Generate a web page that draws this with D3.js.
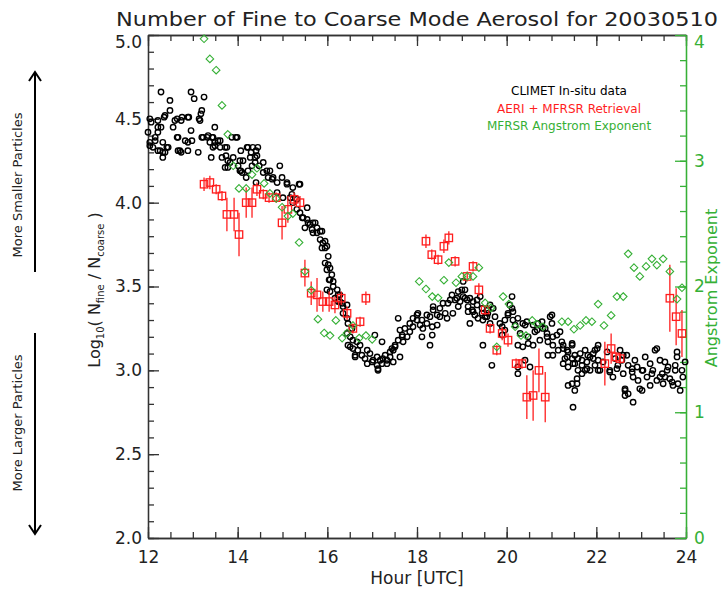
<!DOCTYPE html>
<html>
<head>
<meta charset="utf-8">
<script src="https://cdn.jsdelivr.net/npm/d3@7"></script>
<style>
  body { margin: 0; background: #ffffff; }
</style>
</head>
<body>
<div id="chart"></div>
<script>
// CLIMET in-situ data: [hour UTC, log10(Nfine/Ncoarse)]
const climet = [
  [12.04,4.50],[12.07,4.48],[12.00,4.42],[12.04,4.36],[12.04,4.34],[12.11,4.33],[12.16,4.39],[12.16,4.37],
  [12.22,4.49],[12.22,4.45],[12.22,4.42],[12.22,4.31],[12.27,4.31],[12.29,4.66],[12.29,4.45],[12.33,4.36],
  [12.33,4.30],[12.33,4.27],[12.36,4.51],[12.38,4.52],[12.38,4.30],[12.42,4.33],[12.45,4.33],[12.49,4.61],
  [12.49,4.55],[12.56,4.45],[12.60,4.49],[12.65,4.50],[12.65,4.39],[12.67,4.39],[12.67,4.31],[12.71,4.31],
  [12.74,4.49],[12.74,4.30],[12.76,4.51],[12.83,4.37],[12.89,4.51],[12.89,4.36],[12.89,4.31],[12.91,4.51],
  [12.96,4.66],[12.96,4.43],[12.98,4.37],[13.03,4.62],[13.12,4.30],[13.14,4.50],[13.16,4.49],[13.18,4.53],
  [13.20,4.55],[13.20,4.39],[13.23,4.39],[13.25,4.63],[13.32,4.39],[13.34,4.40],[13.38,4.36],[13.41,4.27],
  [13.43,4.39],[13.45,4.39],[13.45,4.33],[13.49,4.45],[13.49,4.36],[13.49,4.34],[13.56,4.37],[13.61,4.37],
  [13.61,4.33],[13.65,4.27],[13.72,4.33],[13.72,4.21],[13.74,4.28],[13.76,4.33],[13.78,4.25],[13.78,4.21],
  [13.83,4.24],[13.87,4.39],[13.90,4.27],[13.96,4.39],[13.99,4.39],[14.01,4.22],[14.05,4.25],[14.05,4.19],
  [14.07,4.31],[14.07,4.19],[14.10,4.18],[14.12,4.25],[14.19,4.15],[14.21,4.33],[14.23,4.33],[14.23,4.19],
  [14.28,4.27],[14.30,4.30],[14.32,4.22],[14.34,4.33],[14.39,4.27],[14.39,4.24],[14.41,4.31],[14.41,4.12],
  [14.43,4.28],[14.45,4.33],[14.48,4.22],[14.57,4.24],[14.57,4.18],[14.65,4.19],[14.68,4.15],[14.72,4.19],
  [14.77,4.14],[14.79,4.15],[14.88,4.12],[14.88,4.06],[14.94,4.22],[14.99,4.15],[15.01,4.03],[15.10,4.12],
  [15.10,4.11],[15.17,4.03],[15.21,4.05],[15.23,4.09],[15.23,4.00],[15.32,4.02],[15.32,3.96],[15.37,4.11],
  [15.39,4.11],[15.39,3.94],[15.44,3.91],[15.46,3.91],[15.50,3.85],[15.55,3.97],[15.55,3.90],[15.57,3.88],
  [15.61,3.87],[15.66,3.84],[15.68,3.88],[15.68,3.82],[15.73,3.88],[15.77,3.85],[15.77,3.82],[15.84,3.83],
  [15.84,3.78],[15.88,3.83],[15.88,3.73],[15.90,3.76],[15.95,3.77],[15.95,3.73],[15.95,3.64],[15.99,3.74],
  [15.99,3.60],[15.99,3.48],[16.02,3.68],[16.02,3.63],[16.04,3.54],[16.06,3.61],[16.06,3.54],[16.06,3.47],
  [16.10,3.57],[16.13,3.53],[16.13,3.50],[16.17,3.43],[16.22,3.48],[16.24,3.45],[16.24,3.41],[16.28,3.45],
  [16.28,3.41],[16.33,3.40],[16.35,3.38],[16.35,3.34],[16.44,3.39],[16.44,3.31],[16.44,3.22],[16.46,3.28],
  [16.46,3.15],[16.51,3.20],[16.51,3.14],[16.55,3.25],[16.57,3.18],[16.57,3.13],[16.62,3.09],[16.62,3.08],
  [16.66,3.17],[16.68,3.12],[16.73,3.15],[16.77,3.09],[16.84,3.07],[16.89,3.12],[16.89,3.04],[16.95,3.10],
  [17.00,3.05],[17.02,3.06],[17.06,3.21],[17.11,3.08],[17.11,3.03],[17.13,3.01],[17.13,3.00],[17.18,3.06],
  [17.22,3.17],[17.22,3.04],[17.24,3.07],[17.29,3.09],[17.33,3.06],[17.33,3.04],[17.40,3.11],[17.40,3.08],
  [17.44,3.13],[17.47,3.12],[17.47,3.05],[17.51,3.15],[17.51,3.14],[17.58,3.31],[17.58,3.18],[17.62,3.24],
  [17.62,3.08],[17.67,3.21],[17.67,3.20],[17.69,3.17],[17.73,3.25],[17.78,3.20],[17.84,3.28],[17.84,3.23],
  [17.91,3.31],[17.91,3.26],[18.00,3.33],[18.00,3.30],[18.02,3.34],[18.07,3.27],[18.11,3.30],[18.11,3.20],
  [18.13,3.25],[18.22,3.33],[18.22,3.28],[18.29,3.32],[18.29,3.15],[18.34,3.26],[18.34,3.21],[18.36,3.38],
  [18.36,3.36],[18.45,3.33],[18.45,3.27],[18.51,3.37],[18.51,3.32],[18.58,3.40],[18.63,3.34],[18.67,3.31],
  [18.69,3.40],[18.74,3.42],[18.78,3.45],[18.80,3.34],[18.85,3.42],[18.89,3.43],[18.92,3.47],[18.92,3.38],
  [18.96,3.41],[19.00,3.48],[19.03,3.53],[19.03,3.44],[19.07,3.48],[19.07,3.43],[19.12,3.42],[19.14,3.38],
  [19.14,3.35],[19.18,3.43],[19.18,3.28],[19.23,3.36],[19.25,3.41],[19.25,3.35],[19.29,3.33],[19.34,3.42],
  [19.34,3.39],[19.36,3.31],[19.41,3.44],[19.45,3.37],[19.45,3.34],[19.47,3.30],[19.47,3.15],[19.52,3.32],
  [19.56,3.32],[19.58,3.36],[19.58,3.34],[19.63,3.39],[19.63,3.28],[19.67,3.03],[19.70,3.37],[19.74,3.32],
  [19.85,3.28],[19.90,3.26],[19.90,3.21],[19.96,3.30],[19.96,3.24],[20.03,3.34],[20.03,3.33],[20.07,3.39],
  [20.12,3.44],[20.12,3.37],[20.14,3.35],[20.14,3.30],[20.19,3.27],[20.25,3.31],[20.25,3.15],[20.25,3.02],
  [20.25,2.98],[20.30,3.22],[20.36,3.28],[20.36,3.14],[20.41,3.27],[20.41,3.06],[20.45,3.29],[20.48,3.20],
  [20.48,3.16],[20.52,3.02],[20.59,3.27],[20.59,3.15],[20.63,3.23],[20.68,3.24],[20.70,3.28],[20.74,3.18],
  [20.79,3.29],[20.81,3.25],[20.86,3.25],[20.90,3.22],[20.90,3.20],[20.92,3.17],[20.92,3.09],[20.97,3.32],
  [21.01,3.33],[21.01,3.28],[21.03,3.20],[21.03,3.15],[21.03,3.09],[21.12,3.21],[21.15,3.12],[21.19,3.23],
  [21.23,3.17],[21.26,3.15],[21.26,3.13],[21.26,3.04],[21.30,3.07],[21.35,3.12],[21.35,3.08],[21.37,3.11],
  [21.37,3.02],[21.37,2.91],[21.46,3.16],[21.46,3.15],[21.46,3.07],[21.46,2.92],[21.48,3.04],[21.48,2.78],
  [21.52,3.09],[21.52,3.04],[21.52,2.88],[21.57,2.95],[21.57,2.92],[21.59,3.07],[21.59,3.00],[21.64,3.10],
  [21.68,3.06],[21.68,3.03],[21.68,2.98],[21.75,3.12],[21.75,3.00],[21.79,3.05],[21.79,3.01],[21.81,3.09],
  [21.86,3.08],[21.86,3.00],[21.93,3.10],[21.93,3.07],[21.97,3.12],[21.97,3.03],[22.02,3.13],[22.04,3.15],
  [22.04,3.06],[22.04,3.00],[22.08,3.00],[22.15,3.05],[22.24,3.11],[22.30,3.00],[22.30,2.99],[22.37,2.96],
  [22.42,3.07],[22.46,3.01],[22.48,3.03],[22.53,3.12],[22.57,3.06],[22.60,3.09],[22.60,2.98],[22.64,2.89],
  [22.64,2.88],[22.64,2.85],[22.68,3.09],[22.71,3.03],[22.71,2.86],[22.80,3.01],[22.80,2.99],[22.82,2.96],
  [22.82,2.81],[22.86,3.06],[22.91,3.02],[22.93,2.94],[22.97,2.89],[23.02,3.00],[23.02,2.88],[23.04,3.00],
  [23.09,3.08],[23.13,2.96],[23.20,3.04],[23.20,2.91],[23.24,2.98],[23.26,3.00],[23.31,3.12],[23.35,3.13],
  [23.35,2.94],[23.42,3.06],[23.42,2.96],[23.47,2.98],[23.49,2.92],[23.53,3.05],[23.53,2.96],[23.58,3.00],
  [23.60,3.02],[23.64,2.95],[23.69,2.93],[23.71,2.91],[23.76,3.03],[23.76,3.00],[23.80,3.11],[23.80,3.08],
  [23.82,2.92],[23.87,2.88],[23.91,3.00],[23.93,2.96],[23.98,3.05]
];

// AERI + MFRSR retrieval: [hour UTC, log10 ratio, error]
const aeri = [
  [13.25,4.11,0.04],[13.38,4.12,0.04],[13.52,4.08,0.03],[13.65,4.04,0.03],[13.76,3.93,0.10],[13.92,3.93,0.10],
  [14.03,3.81,0.13],[14.19,4.00,0.09],[14.32,4.00,0.09],[14.43,4.08,0.04],[14.57,4.05,0.03],[14.70,4.03,0.03],
  [14.86,4.03,0.03],[14.99,3.88,0.10],[15.12,3.96,0.08],[15.26,4.02,0.04],[15.39,4.00,0.04],[15.50,3.58,0.08],
  [15.64,3.46,0.07],[15.77,3.45,0.10],[15.90,3.41,0.06],[16.04,3.41,0.06],[16.17,3.39,0.05],[16.31,3.43,0.04],
  [16.44,3.34,0.04],[16.57,3.25,0.03],[16.73,3.29,0.03],[16.86,3.43,0.04],[18.20,3.77,0.04],[18.33,3.69,0.03],
  [18.47,3.66,0.03],[18.60,3.74,0.04],[18.71,3.79,0.04],[18.85,3.65,0.03],[19.12,3.56,0.03],[19.25,3.62,0.03],
  [19.38,3.48,0.04],[19.52,3.36,0.03],[19.63,3.25,0.03],[19.78,3.12,0.03],[19.90,3.22,0.04],[20.03,3.18,0.04],
  [20.21,3.04,0.03],[20.34,3.04,0.03],[20.45,2.84,0.13],[20.59,2.85,0.15],[20.72,3.00,0.13],[20.86,2.84,0.15],
  [22.19,3.04,0.13],[22.33,3.13,0.09],[22.44,3.08,0.03],[22.53,3.07,0.03],[23.64,3.43,0.20],[23.78,3.32,0.17],
  [23.91,3.22,0.14]
];

// MFRSR Angstrom exponent (right axis): [hour UTC, exponent]
const angstrom = [
  [13.25,3.97],[13.38,3.81],[13.52,3.72],[13.65,3.44],[13.78,3.21],[13.90,2.96],[14.03,2.78],[14.19,2.78],
  [14.32,2.89],[14.43,2.94],[14.59,2.82],[14.72,2.74],[14.86,2.70],[14.99,2.63],[15.12,2.56],[15.23,2.58],
  [15.37,2.35],[15.50,2.12],[15.64,1.97],[15.79,1.74],[15.93,1.63],[16.06,1.61],[16.19,1.73],[16.33,1.59],
  [16.44,1.63],[16.57,1.69],[16.71,1.59],[16.86,1.61],[17.00,1.58],[18.05,2.04],[18.20,1.98],[18.34,1.92],
  [18.47,1.91],[18.60,2.05],[18.71,2.19],[18.87,2.03],[19.00,2.08],[19.12,2.08],[19.25,2.08],[19.38,2.15],
  [19.52,1.87],[19.65,1.83],[19.78,1.52],[19.92,1.92],[20.05,1.86],[20.19,1.68],[20.32,1.61],[20.43,1.61],
  [20.57,1.73],[20.68,1.70],[20.81,1.68],[21.23,1.72],[21.37,1.72],[21.50,1.66],[21.64,1.69],[21.77,1.73],
  [21.90,1.72],[22.04,1.86],[22.17,1.69],[22.33,1.77],[22.46,1.92],[22.60,1.92],[22.71,2.26],[22.84,2.15],
  [22.97,2.08],[23.11,2.16],[23.24,2.22],[23.35,2.17],[23.49,2.22],[23.64,2.12],[23.80,1.90],[23.91,1.99]
];

// Tick values
const hourTicks = [12, 14, 16, 18, 20, 22, 24];
const hourMinor = d3.range(12, 24.01, 0.5);
const logTicks = [2.0, 2.5, 3.0, 3.5, 4.0, 4.5, 5.0];
const logMinor = d3.range(2, 5.001, 0.1);
const angTicks = [0, 1, 2, 3, 4];
const angMinor = d3.range(0, 4.001, 0.2);

const legendLabels = ["CLIMET In-situ data", "AERI + MFRSR Retrieval", "MFRSR Angstrom Exponent"];

// Define colors
var climetColor = "#000000";
var aeriColor = "#ff1e1e";
var angColor = "#36b036";
var axisColor = "#333333";
var textColor = "#222222";
var fontFamily = "DejaVu Sans, sans-serif";

// Define dimensions
const width = 724;
const height = 592;
const plotLeft = 148;
const plotRight = 686;
const plotTop = 35;
const plotBottom = 538;

var svg = d3.select("#chart")
  .append("svg")
  .attr("width", width)
  .attr("height", height)
  .style("background", "#fff");

var x = d3.scaleLinear().domain([12, 24]).range([plotLeft, plotRight]);
var y = d3.scaleLinear().domain([2, 5]).range([plotBottom, plotTop]);
var yAng = d3.scaleLinear().domain([0, 4]).range([plotBottom, plotTop]);

function styleAxis(selection, color) {
  selection.attr("font-family", fontFamily).attr("font-size", 17);
  selection.select(".domain").attr("stroke", color).attr("stroke-width", 1.3);
  selection.selectAll(".tick line").attr("stroke", color).attr("stroke-width", 1.3);
  selection.selectAll(".tick text").attr("fill", color === axisColor ? textColor : color);
}

// Left axis (minor then major)
svg.append("g")
  .attr("transform", `translate(${plotLeft},0)`)
  .call(d3.axisLeft(y).tickValues(logMinor).tickSize(-6).tickSizeOuter(0).tickFormat(""))
  .call(styleAxis, axisColor);
var leftAxis = svg.append("g")
  .attr("transform", `translate(${plotLeft},0)`)
  .call(d3.axisLeft(y).tickValues(logTicks).tickSize(-11).tickSizeOuter(0).tickPadding(6).tickFormat(d3.format(".1f")))
  .call(styleAxis, axisColor);
leftAxis.selectAll(".tick text").filter(d => d === 5).attr("dy", "0.75em");

// Bottom axis
svg.append("g")
  .attr("transform", `translate(0,${plotBottom})`)
  .call(d3.axisBottom(x).tickValues(hourMinor).tickSize(-6).tickSizeOuter(0).tickFormat(""))
  .call(styleAxis, axisColor);
svg.append("g")
  .attr("transform", `translate(0,${plotBottom})`)
  .call(d3.axisBottom(x).tickValues(hourTicks).tickSize(-11).tickSizeOuter(0).tickPadding(13).tickFormat(d3.format("d")))
  .call(styleAxis, axisColor);

// Top axis
svg.append("g")
  .attr("transform", `translate(0,${plotTop})`)
  .call(d3.axisTop(x).tickValues(hourMinor).tickSize(-6).tickSizeOuter(0).tickFormat(""))
  .call(styleAxis, axisColor);
svg.append("g")
  .attr("transform", `translate(0,${plotTop})`)
  .call(d3.axisTop(x).tickValues(hourTicks).tickSize(-11).tickSizeOuter(0).tickFormat(""))
  .call(styleAxis, axisColor);

// Right axis (green)
svg.append("g")
  .attr("transform", `translate(${plotRight},0)`)
  .call(d3.axisRight(yAng).tickValues(angMinor).tickSize(-6).tickSizeOuter(0).tickFormat(""))
  .call(styleAxis, angColor);
var rightAxis = svg.append("g")
  .attr("transform", `translate(${plotRight},0)`)
  .call(d3.axisRight(yAng).tickValues(angTicks).tickSize(-11).tickSizeOuter(0).tickPadding(8).tickFormat(d3.format("d")))
  .call(styleAxis, angColor);
rightAxis.selectAll(".tick text").filter(d => d === 4).attr("dy", "0.75em");

// CLIMET points
svg.append("g")
  .selectAll("circle")
  .data(climet)
  .enter()
  .append("circle")
  .attr("cx", d => x(d[0]))
  .attr("cy", d => y(d[1]))
  .attr("r", 2.7)
  .attr("fill", "none")
  .attr("stroke", climetColor)
  .attr("stroke-width", 1.4);

// AERI retrieval with error bars
var aeriG = svg.append("g");
aeriG.selectAll("line")
  .data(aeri)
  .enter()
  .append("line")
  .attr("x1", d => x(d[0]))
  .attr("x2", d => x(d[0]))
  .attr("y1", d => y(d[1] - d[2]))
  .attr("y2", d => y(d[1] + d[2]))
  .attr("stroke", aeriColor)
  .attr("stroke-width", 1.3);
aeriG.selectAll("rect")
  .data(aeri)
  .enter()
  .append("rect")
  .attr("x", d => x(d[0]) - 3.7)
  .attr("y", d => y(d[1]) - 3.7)
  .attr("width", 7.4)
  .attr("height", 7.4)
  .attr("fill", "none")
  .attr("stroke", aeriColor)
  .attr("stroke-width", 1.3);

// Angstrom exponent diamonds
svg.append("g")
  .selectAll("path")
  .data(angstrom)
  .enter()
  .append("path")
  .attr("transform", d => `translate(${x(d[0])},${yAng(d[1])})`)
  .attr("d", "M0,-3.8L3.8,0L0,3.8L-3.8,0Z")
  .attr("fill", "none")
  .attr("stroke", angColor)
  .attr("stroke-width", 1.1);

// Title
svg.append("text")
  .attr("x", 417)
  .attr("y", 26)
  .attr("text-anchor", "middle")
  .attr("font-family", fontFamily)
  .attr("font-size", 20)
  .attr("fill", textColor)
  .attr("textLength", 602)
  .attr("lengthAdjust", "spacingAndGlyphs")
  .text("Number of Fine to Coarse Mode Aerosol for 20030510");

// Axis titles
svg.append("text")
  .attr("x", 417)
  .attr("y", 584)
  .attr("text-anchor", "middle")
  .attr("font-family", fontFamily)
  .attr("font-size", 17)
  .attr("fill", textColor)
  .text("Hour [UTC]");

var yTitle = svg.append("text")
  .attr("transform", "translate(100,290) rotate(-90)")
  .attr("text-anchor", "middle")
  .attr("font-family", fontFamily)
  .attr("font-size", 16)
  .attr("fill", textColor);
yTitle.append("tspan").text("Log");
yTitle.append("tspan").attr("font-size", 10).attr("dy", 4).text("10");
yTitle.append("tspan").attr("dy", -4).text("( N");
yTitle.append("tspan").attr("font-size", 10).attr("dy", 4).text("fine");
yTitle.append("tspan").attr("dy", -4).text(" / N");
yTitle.append("tspan").attr("font-size", 10).attr("dy", 4).text("coarse");
yTitle.append("tspan").attr("dy", -4).text(" )");

svg.append("text")
  .attr("transform", "translate(717,288) rotate(-90)")
  .attr("text-anchor", "middle")
  .attr("font-family", fontFamily)
  .attr("font-size", 16)
  .attr("fill", angColor)
  .text("Angstrom Exponent");

// Legend
var legendColors = [climetColor, aeriColor, angColor];
svg.append("g")
  .selectAll("text")
  .data(legendLabels)
  .enter()
  .append("text")
  .attr("x", 569)
  .attr("y", (d, i) => 95 + i * 17.5)
  .attr("text-anchor", "middle")
  .attr("font-family", fontFamily)
  .attr("font-size", 12)
  .attr("fill", (d, i) => legendColors[i])
  .text(d => d);

// Side annotations with arrows
function sideNote(label, cy, len, y1, y2, tipUp) {
  svg.append("text")
    .attr("transform", `translate(22,${cy}) rotate(-90)`)
    .attr("text-anchor", "middle")
    .attr("font-family", fontFamily)
    .attr("font-size", 11.5)
    .attr("fill", textColor)
    .attr("textLength", len)
    .attr("lengthAdjust", "spacingAndGlyphs")
    .text(label);
  svg.append("line")
    .attr("x1", 35).attr("x2", 35)
    .attr("y1", y1).attr("y2", y2)
    .attr("stroke", "#000").attr("stroke-width", 2);
  let tip = tipUp ? y1 : y2;
  let s = tipUp ? 1 : -1;
  svg.append("path")
    .attr("d", `M29,${tip + s * 9}L35,${tip}L41,${tip + s * 9}`)
    .attr("fill", "none")
    .attr("stroke", "#000")
    .attr("stroke-width", 2);
}
sideNote("More Smaller Particles", 185, 145, 72, 272, true);
sideNote("More Larger Particles", 423, 137, 333, 534, false);
</script>
</body>
</html>
